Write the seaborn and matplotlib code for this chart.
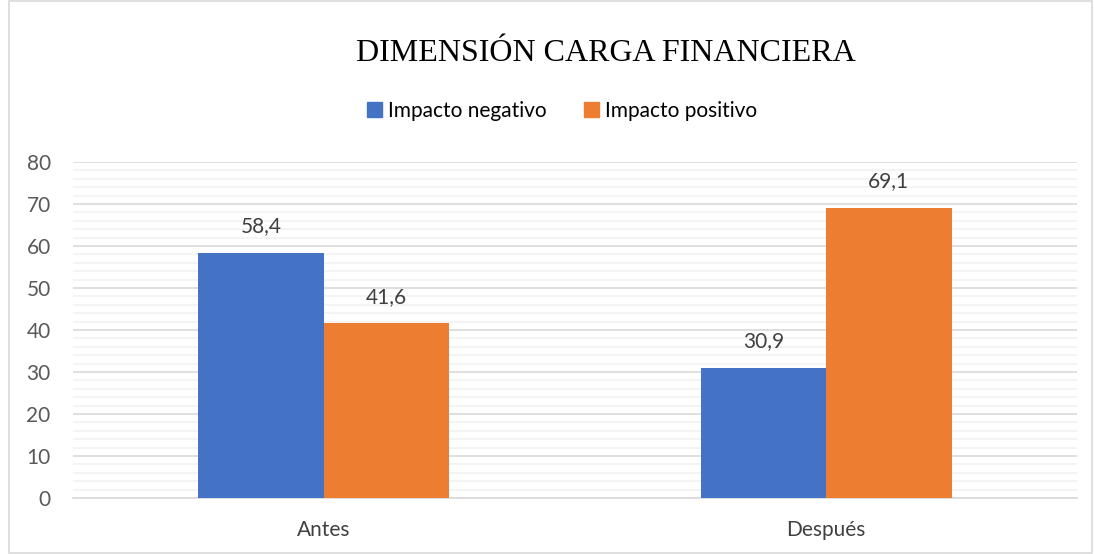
import matplotlib
matplotlib.use("Agg")
import matplotlib.pyplot as plt
import matplotlib.patches as mpatches
from matplotlib.ticker import MultipleLocator
import pandas as pd
import seaborn as sns

periodos = ["Antes", "Después"]
series = ["Impacto negativo", "Impacto positivo"]
negativo = [58.4, 30.9]
positivo = [41.6, 69.1]
colores = ["#4472C4", "#ED7D31"]

df = pd.DataFrame({
    "periodo": periodos * 2,
    "serie": [series[0]] * 2 + [series[1]] * 2,
    "valor": negativo + positivo,
})

sns.set_style("white")
plt.rcParams["font.family"] = ["Lato", "DejaVu Sans"]

fig = plt.figure(figsize=(10.94, 5.54), dpi=100)
ax = fig.add_axes([0.0667, 0.1011, 0.9178, 0.6065])

sns.barplot(data=df, x="periodo", y="valor", hue="serie", order=periodos,
            hue_order=series, palette=colores, width=0.5, saturation=1,
            ax=ax, legend=False, zorder=3, linewidth=0)

ax.set_xlim(-0.5, 1.5)
ax.set_ylim(0, 80)
ax.yaxis.set_major_locator(MultipleLocator(10))
ax.yaxis.set_minor_locator(MultipleLocator(2))
ax.grid(axis="y", which="major", color="#D9D9D9", linewidth=1.2, zorder=0)
ax.grid(axis="y", which="minor", color="#F2F2F2", linewidth=1.2, zorder=0)
ax.set_axisbelow(True)
for s in ["top", "right", "left"]:
    ax.spines[s].set_visible(False)
ax.spines["bottom"].set_color("#D9D9D9")
ax.spines["bottom"].set_linewidth(1.2)
ax.tick_params(axis="both", which="both", length=0, labelsize=15,
               labelcolor="#595959")
ax.tick_params(axis="y", pad=16)
ax.tick_params(axis="x", pad=16, labelcolor="#404040")
ax.set_xlabel("")
ax.set_ylabel("")

for cont in ax.containers:
    ax.bar_label(cont, labels=[f"{b.get_height():.1f}".replace(".", ",") for b in cont],
                 padding=12, fontsize=15, color="#404040")

fig.text(0.554, 0.903, "DIMENSIÓN CARGA FINANCIERA", ha="center", va="center",
         fontsize=23, family="Liberation Serif", color="black")

handles = [mpatches.Patch(color=c, label=l) for c, l in zip(colores, series)]
fig.legend(handles=handles, loc="center", bbox_to_anchor=(0.514, 0.80), ncol=2,
           frameon=False, fontsize=15, handlelength=0.7, handleheight=0.7,
           handletextpad=0.3, columnspacing=1.8, labelcolor="#000000")

border = mpatches.Rectangle((0.008, 0.002), 0.99, 0.996, transform=fig.transFigure,
                            fill=False, edgecolor="#D9D9D9", linewidth=1.2)
fig.patches.append(border)

fig.savefig("out.png", dpi=100)
